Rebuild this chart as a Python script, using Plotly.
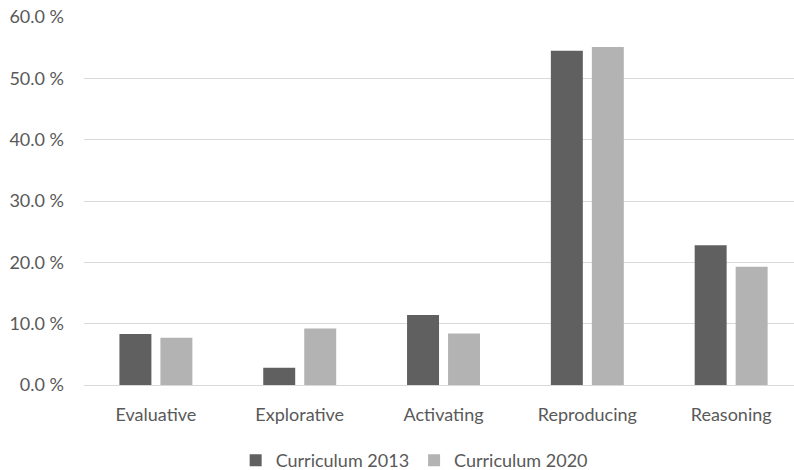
import plotly.graph_objects as go

# Share of task types per curriculum (percent)
categories = ["Evaluative", "Explorative", "Activating", "Reproducing", "Reasoning"]
curriculum_2013 = [8.3, 2.8, 11.4, 54.5, 22.8]
curriculum_2020 = [7.7, 9.2, 8.4, 55.1, 19.3]
tick_values = [0, 10, 20, 30, 40, 50, 60]
tick_labels = ["0.0 %", "10.0 %", "20.0 %", "30.0 %", "40.0 %", "50.0 %", "60.0 %"]

FONT = "Lato"
TEXT = "#595959"
GRID = "#d9d9d9"
SIZE = 18

fig = go.Figure()
fig.add_trace(go.Bar(
    name="Curriculum 2013", x=categories, y=curriculum_2013,
    marker=dict(color="#606060", line=dict(width=0)),
))
fig.add_trace(go.Bar(
    name="Curriculum 2020", x=categories, y=curriculum_2020,
    marker=dict(color="#b3b3b3", line=dict(width=0)),
))

fig.update_layout(
    width=794, height=470,
    margin=dict(l=84, r=0, t=17, b=85, autoexpand=False),
    paper_bgcolor="white", plot_bgcolor="white",
    barmode="group", bargap=0.43, bargroupgap=0.22,
    font=dict(family=FONT, size=SIZE, color=TEXT),
    showlegend=True,
    legend=dict(
        orientation="h", xref="paper", x=0.465, xanchor="center",
        yref="container", y=0.02, yanchor="middle",
        font=dict(family=FONT, size=SIZE, color=TEXT),
        itemwidth=30, traceorder="normal",
    ),
)
fig.update_xaxes(
    range=[-0.5, 4.437],
    showgrid=False, showline=True, linecolor=GRID, linewidth=1,
    ticks="", ticklabelstandoff=13,
    tickfont=dict(family=FONT, size=SIZE, color=TEXT),
)
fig.update_yaxes(
    range=[0, 60], tickvals=tick_values, ticktext=tick_labels,
    showgrid=True, gridcolor=GRID, gridwidth=1,
    zeroline=False, showline=False, ticks="", ticklabelstandoff=19,
    tickfont=dict(family=FONT, size=SIZE, color=TEXT),
)

fig.write_html("out.html")
